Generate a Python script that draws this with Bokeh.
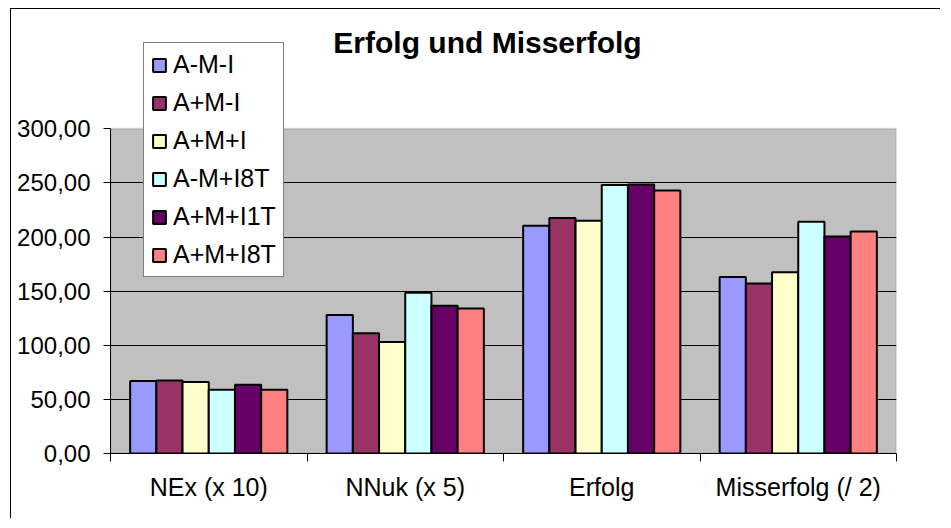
import numpy as np
from bokeh.plotting import figure
from bokeh.models import (ColumnDataSource, Range1d, FixedTicker, CustomJSTickFormatter,
                          Legend, LegendItem, Label, BoxAnnotation)
from bokeh.transform import dodge
from bokeh.embed import file_html
from bokeh.resources import INLINE

categories = ["NEx (x 10)", "NNuk (x 5)", "Erfolg", "Misserfolg (/ 2)"]
series_names = ["A-M-I", "A+M-I", "A+M+I", "A-M+I8T", "A+M+I1T", "A+M+I8T"]
a_m_i = [67, 128, 210.5, 163]
ap_m_i = [67.5, 111, 217.5, 157]
ap_mp_i = [66, 103, 215, 167.5]
a_mp_i8t = [59, 148.5, 248, 214]
ap_mp_i1t = [63.5, 136.5, 248.5, 200.5]
ap_mp_i8t = [59, 134, 243, 205]
series_values = [a_m_i, ap_m_i, ap_mp_i, a_mp_i8t, ap_mp_i1t, ap_mp_i8t]
colors = ["#9999FF", "#993366", "#FFFFCC", "#CCFFFF", "#660066", "#FF8080"]
y_ticks = [0, 50, 100, 150, 200, 250, 300]
y_max = 300

FONT = "Liberation Sans"

x_centers = list(np.arange(len(categories)) + 0.5)
data = {"x": x_centers}
for i, vals in enumerate(series_values):
    data[f"s{i}"] = vals
src = ColumnDataSource(data)

# frame extends above the 300 line so that title and legend are not clipped
p = figure(width=930, height=510, output_backend="svg", toolbar_location=None,
           x_range=Range1d(0, len(categories)), y_range=Range1d(0, 400),
           min_border_left=99, min_border_right=45, min_border_top=11,
           min_border_bottom=66)
p.margin = (8, 0, 0, 10)
p.styles = {"border-top": "1px solid black", "border-left": "1px solid black"}
p.title = None
p.background_fill_color = "white"
p.border_fill_color = "white"
p.outline_line_color = None

plot_area = BoxAnnotation(bottom=0, top=y_max, fill_color="#C0C0C0", fill_alpha=1,
                          line_color="#808080", line_width=2, level="image")
p.add_layout(plot_area)

n = len(series_names)
group_w = 0.8
bar_w = group_w / n
renderers = []
for i in range(n):
    off = -group_w / 2 + (i + 0.5) * bar_w
    r = p.vbar(x=dodge("x", off), top=f"s{i}", width=bar_w, bottom=0, source=src,
               fill_color=colors[i], line_color="black", line_width=2)
    renderers.append(r)

# grid
p.xgrid.grid_line_color = None
p.ygrid.ticker = FixedTicker(ticks=y_ticks[:-1])
p.ygrid.grid_line_color = "black"
p.ygrid.grid_line_width = 1

# y axis
p.yaxis.ticker = FixedTicker(ticks=y_ticks)
p.yaxis.bounds = (0, y_max)
p.yaxis.formatter = CustomJSTickFormatter(code="return tick.toFixed(2).replace('.', ',');")
p.yaxis.major_label_text_font = FONT
p.yaxis.major_label_text_font_size = "24px"
p.yaxis.major_label_text_color = "black"
p.yaxis.axis_line_color = "black"
p.yaxis.major_tick_line_color = "black"
p.yaxis.major_tick_out = 7
p.yaxis.major_tick_in = 0
p.yaxis.minor_tick_line_color = None
p.yaxis.major_label_standoff = 13

# x axis: labels at centers, tick marks at boundaries
p.xaxis.ticker = FixedTicker(ticks=x_centers,
                             minor_ticks=list(range(len(categories) + 1)))
p.xaxis.major_label_overrides = {float(c): lab for c, lab in zip(x_centers, categories)}
p.xaxis.major_label_text_font = FONT
p.xaxis.major_label_text_font_size = "25px"
p.xaxis.major_label_text_color = "black"
p.xaxis.axis_line_color = "black"
p.xaxis.major_tick_line_color = None
p.xaxis.major_tick_out = 0
p.xaxis.major_tick_in = 0
p.xaxis.minor_tick_line_color = "black"
p.xaxis.minor_tick_out = 8
p.xaxis.minor_tick_in = 0
p.xaxis.major_label_standoff = 11

# legend
items = [LegendItem(label=name, renderers=[r]) for name, r in zip(series_names, renderers)]
legend = Legend(items=items, location=(33, 176))
legend.label_text_font = FONT
legend.label_text_font_size = "25px"
legend.label_text_color = "black"
legend.glyph_width = 16
legend.glyph_height = 16
legend.label_height = 24
legend.label_standoff = 6
legend.spacing = 9
legend.padding = 7
legend.margin = 0
legend.border_line_color = "black"
legend.border_line_width = 1
legend.background_fill_color = "white"
legend.background_fill_alpha = 1
p.add_layout(legend, "center")

# title
title = Label(x=377, y=411, x_units="screen", y_units="screen",
              text="Erfolg und Misserfolg", text_align="center", text_baseline="middle",
              text_font=FONT, text_font_size="30px", text_font_style="bold",
              text_color="black")
p.add_layout(title)

open("out.html", "w").write(file_html(p, INLINE))
